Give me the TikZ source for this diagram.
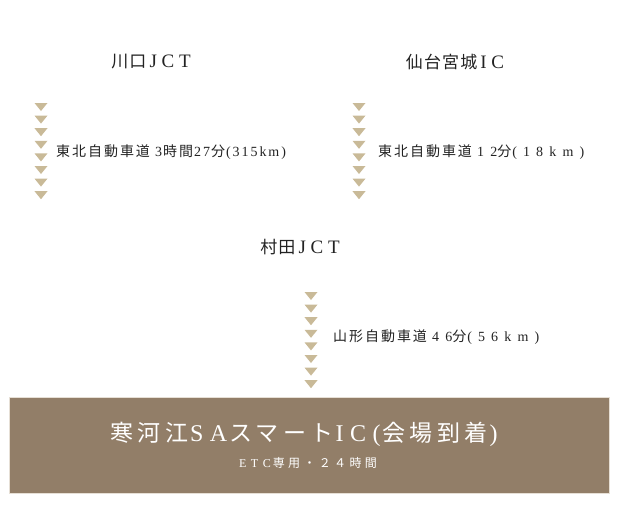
\documentclass[tikz,border=0pt]{standalone}
\usepackage{fontspec}
\setmainfont{Liberation Serif}
\newfontfamily\cjk{Noto Sans CJK JP}[LetterSpace=14]
\newfontfamily\cjkt{Noto Sans CJK JP}[LetterSpace=7]
\newfontfamily\cjkg{Noto Sans CJK JP}[LetterSpace=19]
\newfontfamily\cjks{Noto Sans CJK JP}[LetterSpace=28]
\newfontfamily\latn{Liberation Serif}[LetterSpace=14]
\newfontfamily\latw{Liberation Serif}[LetterSpace=44]
\newfontfamily\latt{Liberation Serif}[LetterSpace=25]
\newfontfamily\latg{Liberation Serif}[LetterSpace=27]
\newfontfamily\lats{Liberation Serif}[LetterSpace=38]
\definecolor{tricol}{HTML}{C9BA98}
\definecolor{boxcol}{HTML}{927E68}
\definecolor{boxedge}{HTML}{E6DFD5}
\definecolor{ink}{HTML}{222222}
\newcommand{\tjp}[1]{{\fontsize{17}{17}\selectfont\cjkt #1}}
\newcommand{\tla}[1]{{\fontsize{19}{19}\selectfont\latt #1}}
\newcommand{\gla}[1]{{\fontsize{24}{24}\selectfont\latg #1}}
\newcommand{\bk}[1][2pt]{\kern#1}
\tikzset{
  stoptitle/.style={text=ink, inner sep=0pt},
  routelabel/.style={text=ink, inner sep=0pt, anchor=west, font=\fontsize{14}{14}\selectfont},
  chev/.style={fill=tricol, draw=none},
  goalbox/.style={fill=boxcol, draw=boxedge, line width=1pt, minimum width=600pt, minimum height=96pt, inner sep=0pt},
  goaltitle/.style={text=white, inner sep=0pt, font=\fontsize{23}{23}\selectfont},
  goalsub/.style={text=white, inner sep=0pt, font=\fontsize{12}{12}\selectfont}
}
\begin{document}
\begin{tikzpicture}[x=1pt,y=-1pt]
\useasboundingbox (0,0) rectangle (620,528);
% stops
\node[stoptitle] (kawaguchi) at (151,62) {\tjp{川口}\bk[3pt]\tla{JCT}};
\node[stoptitle] (sendai) at (455,62) {\tjp{仙台宮城}\bk[3pt]\tla{IC}};
\node[stoptitle] (murata) at (300,247) {\tjp{村田}\bk[3pt]\tla{JCT}};
% chevron columns
\foreach \cx/\ty in {41/103, 359/103, 311/292}{
  \foreach \i in {0,...,7}{
    \fill[chev] (\cx-6.5,\ty+\i*12.6) -- (\cx+6.5,\ty+\i*12.6) -- (\cx,\ty+\i*12.6+8) -- cycle;
  }
}
% route labels
\node[routelabel] (r1) at (56,152) {\cjk 東北自動車道 \latn 3\bk[1pt]\cjk 時間\bk[1pt]\latn 27\bk[1pt]\cjk 分\bk[1pt]\latn (315km)};
\node[routelabel] (r2) at (378,152) {\cjk 東北自動車道 \latw 12\cjk 分\bk[1pt]\latw (18km)};
\node[routelabel] (r3) at (333,337) {\cjk 山形自動車道 \latw 46\cjk 分\bk[1pt]\latw (56km)};
% goal
\node[goalbox] (goal) at (309,445) {};
\node[goaltitle] (goalname) at (304,434) {\cjkg 寒河江\bk\gla{SA}\bk スマート\bk\gla{IC(}\bk 会場到着\bk\gla{)}};
\node[goalsub] (goalnote) at (308,463) {\lats ETC\bk[2pt]\cjks 専用・２４時間};
\end{tikzpicture}
\end{document}
